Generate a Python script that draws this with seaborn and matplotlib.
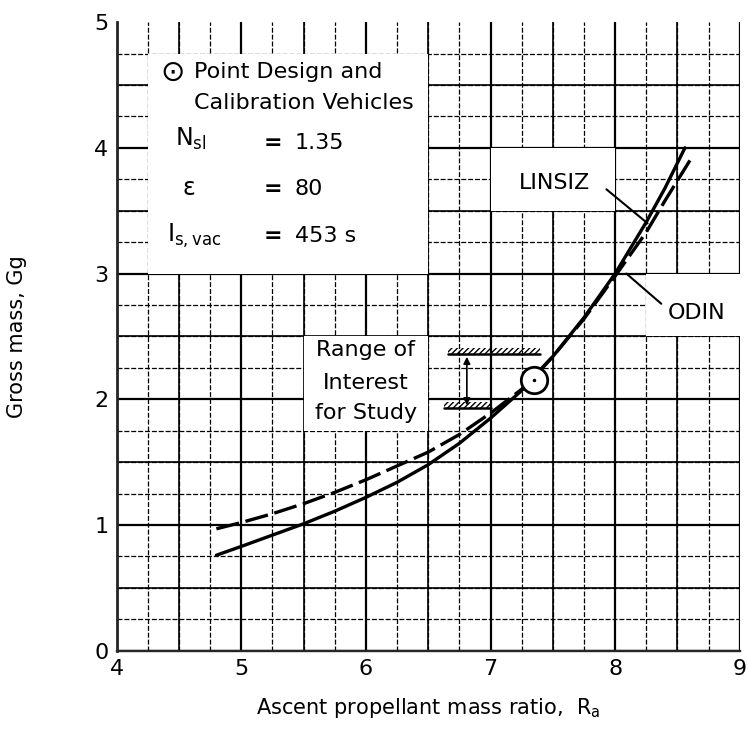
import matplotlib
matplotlib.use("Agg")
import matplotlib.pyplot as plt
from matplotlib.patches import Rectangle
import pandas as pd
import numpy as np
import seaborn as sns

# curve readings, x = ascent propellant mass ratio, y = gross mass (Gg)
linsiz_x = [4.8, 5.0, 5.25, 5.5, 5.75, 6.0, 6.25, 6.5, 6.75, 7.0, 7.25, 7.5, 7.75, 8.0, 8.25, 8.4, 8.56]
linsiz_y = [0.76, 0.83, 0.92, 1.01, 1.11, 1.22, 1.34, 1.48, 1.65, 1.85, 2.07, 2.34, 2.65, 3.0, 3.41, 3.68, 4.0]
odin_x = [4.8, 5.0, 5.25, 5.5, 5.75, 6.0, 6.25, 6.5, 6.75, 7.0, 7.25, 7.5, 7.75, 8.0, 8.25, 8.4, 8.6]
odin_y = [0.97, 1.02, 1.09, 1.17, 1.26, 1.36, 1.47, 1.58, 1.72, 1.89, 2.08, 2.34, 2.64, 2.98, 3.33, 3.58, 3.9]

point_design = (7.35, 2.15)
range_upper = 2.36
range_lower = 1.93

x_ticks = [4, 5, 6, 7, 8, 9]
y_ticks = [0, 1, 2, 3, 4, 5]

df = pd.concat([
    pd.DataFrame({"ratio": linsiz_x, "mass": linsiz_y, "code": "LINSIZ"}),
    pd.DataFrame({"ratio": odin_x, "mass": odin_y, "code": "ODIN"}),
])

sns.set_style("white")
plt.rcParams['font.family'] = ['DejaVu Sans']
plt.rcParams['hatch.linewidth'] = 1.0
plt.rcParams['text.color'] = 'black'
plt.rcParams['axes.labelcolor'] = 'black'
plt.rcParams['xtick.color'] = 'black'
plt.rcParams['ytick.color'] = 'black'

fig = plt.figure(figsize=(7.48, 7.37), dpi=100)
ax = fig.add_axes([0.156, 0.117, 0.833, 0.853])

# graph paper grid
ax.set_xticks(x_ticks)
ax.set_yticks(y_ticks)
ax.set_xticks(np.arange(4, 9.01, 0.25), minor=True)
ax.set_yticks(np.arange(0, 4.76, 0.25), minor=True)
ax.grid(which='major', color='black', lw=1.6)
ax.grid(which='minor', color='black', lw=0.9, ls=(0, (4, 1.5)))
ax.yaxis.get_gridlines()[-1].set_visible(False)
for v in np.arange(4.5, 9, 1.0):
    ax.axvline(v, color='black', lw=1.2, zorder=0.6)
for v in np.arange(0.5, 5, 1.0):
    ax.axhline(v, color='black', lw=1.2, zorder=0.6)
ax.set_axisbelow(True)

# white cut-outs for labels
for (x0, y0, w, h) in [(4.25, 3.0, 2.25, 1.75), (5.5, 1.75, 1.0, 0.75),
                       (7.0, 3.5, 1.0, 0.5), (8.25, 2.5, 0.75, 0.5)]:
    ax.add_patch(Rectangle((x0, y0), w, h, facecolor='white', edgecolor='none', zorder=1))

sns.lineplot(data=df, x="ratio", y="mass", style="code", color='black', lw=2.4,
             dashes={"LINSIZ": "", "ODIN": (7, 2)}, sort=False, legend=False, ax=ax,
             zorder=3, solid_joinstyle='round', dash_joinstyle='round')

# point design circle
ax.plot(*point_design, marker='o', ms=19, mfc='white', mec='black', mew=2, zorder=4)
ax.plot(*point_design, marker='.', ms=3, color='black', zorder=5)

# range of interest marks
for (x0, x1, yy) in [(6.66, 7.40, range_upper), (6.63, 7.0, range_lower)]:
    ax.add_patch(Rectangle((x0, yy), x1 - x0, 0.05, facecolor='none', edgecolor='black',
                           lw=0, hatch='//////', zorder=3))
    ax.plot([x0, x1], [yy, yy], color='black', lw=1.8, zorder=3)
ax.annotate('', xy=(6.81, range_lower), xytext=(6.81, range_upper),
            arrowprops=dict(arrowstyle='<|-|>', color='black', lw=1.2, mutation_scale=10), zorder=3)

fs = 16
ax.text(6.0, 2.39, "Range of", ha='center', va='center', fontsize=fs, zorder=5)
ax.text(6.0, 2.13, "Interest", ha='center', va='center', fontsize=fs, zorder=5)
ax.text(6.0, 1.89, "for Study", ha='center', va='center', fontsize=fs, zorder=5)

ax.text(4.45, 4.60, "\u2299", ha='center', va='center', fontsize=21, zorder=5)
ax.text(4.62, 4.60, "Point Design and", ha='left', va='center', fontsize=fs, zorder=5)
ax.text(4.62, 4.36, "Calibration Vehicles", ha='left', va='center', fontsize=fs, zorder=5)
ax.text(4.47, 4.07, r"$\mathregular{N_{sl}}$", ha='left', va='center', fontsize=fs + 1, zorder=5)
ax.text(4.53, 3.68, "\u03b5", ha='left', va='center', fontsize=fs + 1, zorder=5)
ax.text(4.40, 3.30, r"$\mathregular{I_{s,vac}}$", ha='left', va='center', fontsize=fs + 1, zorder=5)
for yy, val in [(4.04, "1.35"), (3.67, "80"), (3.30, "453 s")]:
    ax.text(5.25, yy, "=", ha='center', va='center', fontsize=fs, fontweight='bold', zorder=5)
    ax.text(5.43, yy, val, ha='left', va='center', fontsize=fs, zorder=5)

# curve labels with leaders
ax.text(7.51, 3.72, "LINSIZ", ha='center', va='center', fontsize=fs, zorder=5)
ax.plot([7.93, 8.26], [3.67, 3.40], color='black', lw=1.5, zorder=4)
ax.text(8.65, 2.69, "ODIN", ha='center', va='center', fontsize=fs, zorder=5)
ax.plot([8.09, 8.37], [3.0, 2.76], color='black', lw=1.5, zorder=4)

ax.set_xlim(4, 9)
ax.set_ylim(0, 5)
ax.tick_params(which='both', length=0, labelsize=16, pad=6)
sns.despine(ax=ax, top=True, right=True)
ax.spines['left'].set_linewidth(2)
ax.spines['bottom'].set_linewidth(1.7)
ax.set_xlabel(r"Ascent propellant mass ratio,  $\mathregular{R_a}$", fontsize=15, labelpad=12)
ax.set_ylabel("Gross mass, Gg", fontsize=15, labelpad=48)

fig.savefig("out.png", dpi=100)
